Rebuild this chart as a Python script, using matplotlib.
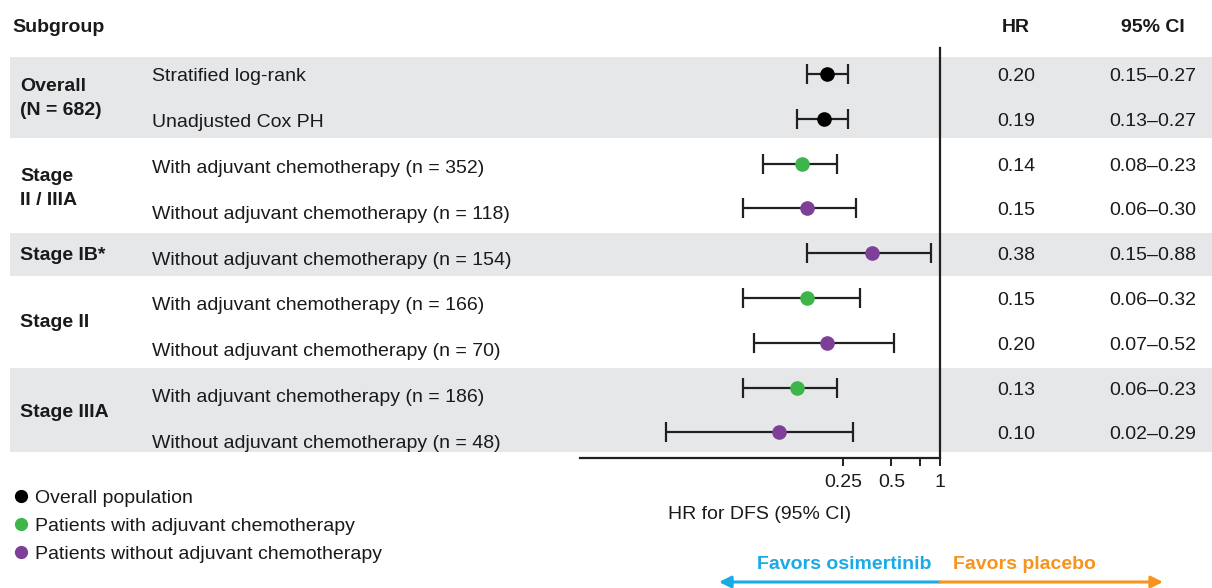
import matplotlib
matplotlib.use("Agg")
import matplotlib.pyplot as plt
from matplotlib.patches import Rectangle

plt.rcParams['font.family'] = ['Liberation Sans', 'DejaVu Sans']

# ---- data ----
group_labels = ["Overall\n(N = 682)", "Stage\nII / IIIA", "Stage IB*", "Stage II", "Stage IIIA"]
group_rows = [(0, 1), (2, 3), (4, 4), (5, 6), (7, 8)]
group_shaded = [True, False, True, False, True]
sub_labels = [
    "Stratified log-rank",
    "Unadjusted Cox PH",
    "With adjuvant chemotherapy (n = 352)",
    "Without adjuvant chemotherapy (n = 118)",
    "Without adjuvant chemotherapy (n = 154)",
    "With adjuvant chemotherapy (n = 166)",
    "Without adjuvant chemotherapy (n = 70)",
    "With adjuvant chemotherapy (n = 186)",
    "Without adjuvant chemotherapy (n = 48)",
]
hr = [0.20, 0.19, 0.14, 0.15, 0.38, 0.15, 0.20, 0.13, 0.10]
ci_lo = [0.15, 0.13, 0.08, 0.06, 0.15, 0.06, 0.07, 0.06, 0.02]
ci_hi = [0.27, 0.27, 0.23, 0.30, 0.88, 0.32, 0.52, 0.23, 0.29]
hr_text = ["0.20", "0.19", "0.14", "0.15", "0.38", "0.15", "0.20", "0.13", "0.10"]
ci_text = ["0.15–0.27", "0.13–0.27", "0.08–0.23", "0.06–0.30", "0.15–0.88",
           "0.06–0.32", "0.07–0.52", "0.06–0.23", "0.02–0.29"]
category = ["overall", "overall", "with", "without", "without", "with", "without", "with", "without"]
cat_colors = {"overall": "#000000", "with": "#3DB54A", "without": "#7D3F98"}
legend_labels = ["Overall population", "Patients with adjuvant chemotherapy",
                 "Patients without adjuvant chemotherapy"]
legend_cats = ["overall", "with", "without"]
x_ticks = [0.25, 0.5, 0.75, 1]
x_ticklabels = ["0.25", "0.5", "", "1"]

# ---- layout (pixels) ----
W, H = 1212, 588
fig = plt.figure(figsize=(W / 100, H / 100), dpi=100)
bg = fig.add_axes([0, 0, 1, 1])
bg.set_xlim(0, W)
bg.set_ylim(H, 0)
bg.axis("off")

row0, dy = 74, 44.8          # plot rows / value columns
lab0, ldy = 74, 45.9         # left label rows
def rowy(i):
    return row0 + dy * i
def laby(i):
    return lab0 + ldy * i

band_color = "#E6E7E9"
band_spans = [(57, 138), None, (233, 276), None, (368, 452)]
FS = 14
txt = "#1a1a1a"
CAP = 7  # half cap height in px -> baseline offset

def T(x, y, s, **kw):
    kw.setdefault("fontsize", FS)
    kw.setdefault("color", txt)
    bg.text(x, y + CAP, s, va="baseline", **kw)

for span, shaded in zip(band_spans, group_shaded):
    if shaded and span:
        bg.add_patch(Rectangle((10, span[0]), W - 10, span[1] - span[0],
                               color=band_color, zorder=0, lw=0))

# headers
T(12, 25, "Subgroup", fontweight="bold", ha="left")
T(1016, 25, "HR", fontweight="bold", ha="center")
T(1153, 25, "95% CI", fontweight="bold", ha="center")

# group labels
for lab, (a, b) in zip(group_labels, group_rows):
    yc = (rowy(a) + rowy(b)) / 2
    lines = lab.split("\n")
    n = len(lines)
    for k, line in enumerate(lines):
        y = yc + (k - (n - 1) / 2) * 24
        T(20, y, line, fontweight="bold", ha="left")

# sub labels and values
for i, lab in enumerate(sub_labels):
    T(152, laby(i), lab, ha="left")
    T(1016, rowy(i), hr_text[i], ha="center")
    T(1153, rowy(i), ci_text[i], ha="center")

# legend
for k, (lab, c) in enumerate(zip(legend_labels, legend_cats)):
    y = 496 + 28 * k
    bg.plot([21], [y], "o", color=cat_colors[c], markersize=8.5)
    T(35, y, lab, ha="left")

# x label
T(760, 512, "HR for DFS (95% CI)", ha="center")

# favors arrows
blue, orange = "#1AAAE6", "#F7941D"
bg.annotate("", xy=(719, 582), xytext=(940, 582),
            arrowprops=dict(arrowstyle="-|>,head_length=0.7,head_width=0.35", color=blue, lw=2.2,
                            shrinkA=0, shrinkB=0))
bg.annotate("", xy=(1163, 582), xytext=(940, 582),
            arrowprops=dict(arrowstyle="-|>,head_length=0.7,head_width=0.35", color=orange, lw=2.2,
                            shrinkA=0, shrinkB=0))
T(931, 562, "Favors osimertinib", fontweight="bold", color=blue, ha="right")
T(953, 562, "Favors placebo", fontweight="bold", color=orange, ha="left")

# ---- forest axes ----
ax_left, ax_right, ax_top, ax_bot = 580, 940, 48, 458
ax = fig.add_axes([ax_left / W, (H - ax_bot) / H, (ax_right - ax_left) / W, (ax_bot - ax_top) / H])
ax.patch.set_alpha(0)
ax.set_xscale("log")
ax.set_xlim(0.00585, 1.0)
ax.set_ylim((ax_bot - row0) / dy, (ax_top - row0) / dy)
for s in ["top", "right", "left"]:
    ax.spines[s].set_visible(False)
ax.spines["bottom"].set_linewidth(1.6)
ax.spines["bottom"].set_color("#231F20")
ax.set_yticks([])
ax.set_xticks(x_ticks)
ax.set_xticklabels(x_ticklabels, fontsize=FS, color=txt)
ax.xaxis.set_minor_locator(matplotlib.ticker.NullLocator())
ax.tick_params(axis="x", length=5.5, width=1.4, color="#231F20", pad=6)
ax.axvline(1.0, color="#231F20", lw=1.6, clip_on=False, zorder=1)

for i in range(len(hr)):
    ax.errorbar(hr[i], i, xerr=[[hr[i] - ci_lo[i]], [ci_hi[i] - hr[i]]], fmt="none",
                ecolor="#231F20", elinewidth=1.6, capsize=7, capthick=1.6, zorder=2)
    ax.plot(hr[i], i, "o", color=cat_colors[category[i]], markersize=9.5, zorder=3)

fig.savefig("out.png", dpi=100)
